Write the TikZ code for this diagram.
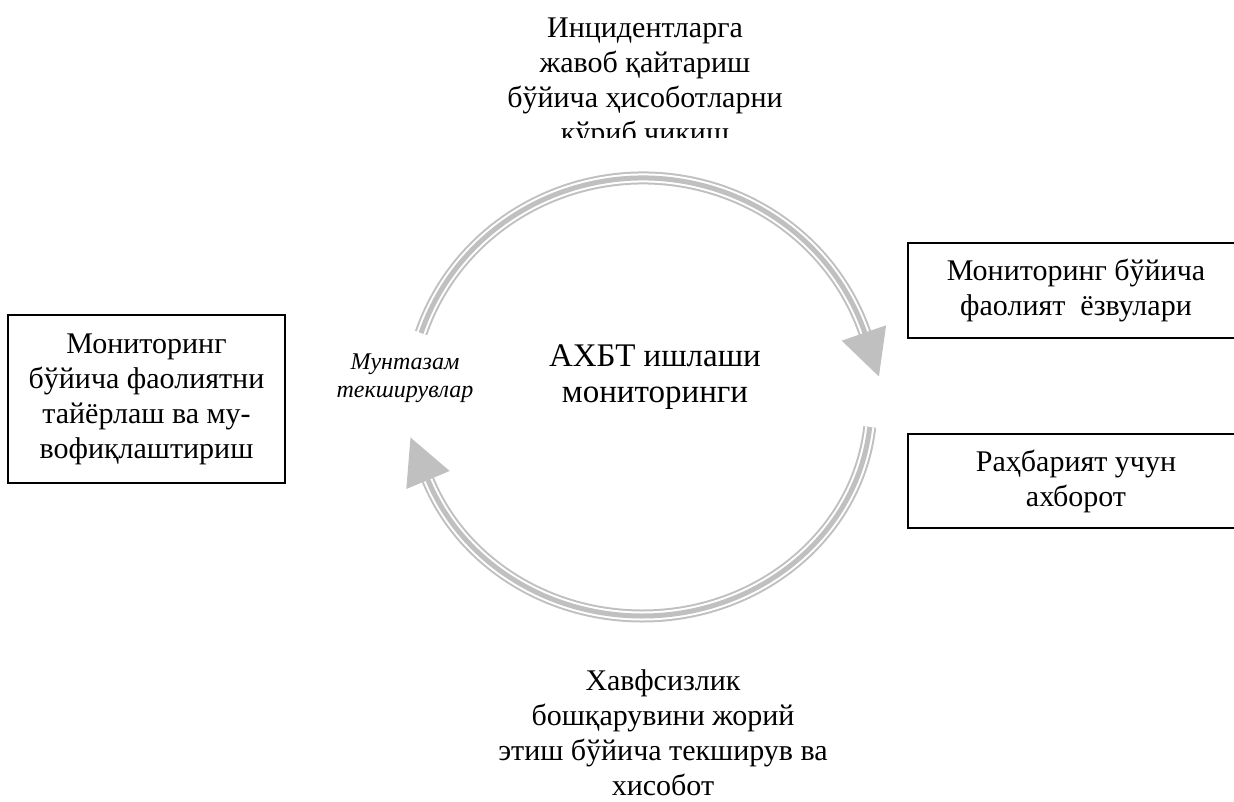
\documentclass[tikz,border=0pt]{standalone}
\usepackage{fontspec}
\setmainfont{Liberation Serif}
\definecolor{arcgray}{RGB}{192,192,192}
\tikzset{
  triple/.style={line width=13pt, draw=arcgray, line cap=butt,
    postaction={draw=white, line width=9pt},
    postaction={draw=arcgray, line width=5pt}},
  headtri/.style={fill=arcgray, draw=none},
  plain/.style={align=center, inner sep=0pt, font=\fontsize{30}{35}\selectfont},
  boxed/.style={plain, draw=black, line width=1.6pt},
}
\begin{document}
\begin{tikzpicture}[x=1pt,y=1pt]
\useasboundingbox (0,0) rectangle (1234,802);
\clip (0,0) rectangle (1234,802);
% arcs
\coordinate (ctop) at (643,397);
\coordinate (cbot) at (642,397);
\draw[triple] ([shift={(161.5:234 and 227)}]ctop) arc[start angle=161.5, end angle=18.5, x radius=234, y radius=227];
\fill[headtri] (841.7,461.3) -- (878.9,425.5) -- (886.1,476.7) -- cycle;
\draw[triple] ([shift={(-6:229 and 211)}]cbot) arc[start angle=-6, end angle=-159.2, x radius=229, y radius=211];
\fill[headtri] (449.7,331) -- (410.5,364.5) -- (406.3,313) -- cycle;
% boxes
\node[boxed, minimum width=277, minimum height=168] (left) at (146.5,403) {Мониторинг\\бўйича фаолиятни\\тайёрлаш ва му-\\вофиқлаштириш};
\node[boxed, minimum width=336, minimum height=95] (r1) at (1076,511.5) {Мониторинг бўйича\\фаолият\ \ ёзвулари};
\node[boxed, minimum width=336, minimum height=94] (r2) at (1076,321) {Раҳбарият учун\\ахборот};
% texts
\node[plain, font=\fontsize{33}{36}\selectfont] (center) at (655,425) {АХБТ ишлаши\\мониторинги};
\node[plain, font=\fontsize{24}{28}\selectfont\itshape] (regular) at (405,424) {Мунтазам\\текширувлар};
\begin{scope}
\clip (300,664) rectangle (1000,802);
\node[plain] (top) at (645,719) {Инцидентларга\\жавоб қайтариш\\бўйича ҳисоботларни\\кўриб чикиш};
\end{scope}
\node[plain] (bottom) at (663,69) {Хавфсизлик\\бошқарувини жорий\\этиш бўйича текширув ва\\хисобот};
\end{tikzpicture}
\end{document}
